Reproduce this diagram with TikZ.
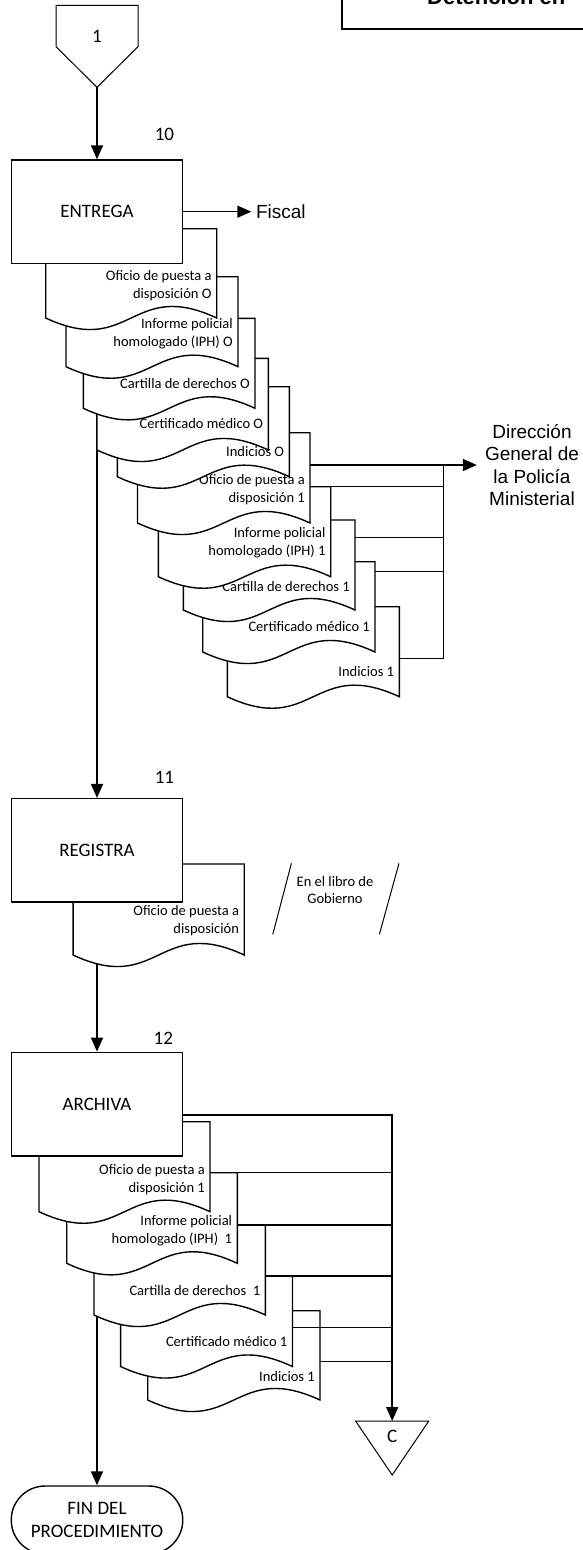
\documentclass[tikz,border=0pt]{standalone}
\usepackage{fontspec}
\setmainfont{Carlito}
\newfontfamily\arialfont{Liberation Sans}
\usetikzlibrary{arrows.meta,calc}
\pgfdeclarelayer{behind}
\pgfsetlayers{behind,main}

\newcommand\bigtxt{\fontsize{19}{23}\selectfont}
\newcommand\doctxt{\fontsize{14.5}{18}\selectfont}
\newcommand\labeltxt{\arialfont\fontsize{19}{22.2}\selectfont}

\tikzset{
  outline/.style={draw=black, line width=1.4pt},
  procbox/.style={outline, fill=white, rectangle, minimum width=171.5pt,
    minimum height=103.5pt, inner sep=0pt, font=\bigtxt},
  flow/.style={line width=1.5pt, -{Triangle[length=14pt,width=12pt]}},
  link/.style={line width=1.5pt},
  doctext/.style={anchor=east, align=right, inner sep=0pt, font=\doctxt},
  steplabel/.style={inner sep=0pt, font=\bigtxt},
}

% document symbol: name, left, right, top, bottom, text centre y, text
\newcommand\docsheet[7]{%
  \draw[outline, fill=white] (#2,#4) -- (#3,#4) -- (#3,#5)
    .. controls ({(#2+#3)/2},{#5-40}) and ({(#2+#3)/2},{#5+40}) .. (#2,#5) -- cycle;
  \node[doctext] (#1) at ({#3-5},#6) {#7};
}

\begin{document}
\begin{tikzpicture}[x=1pt,y=-1pt]
\useasboundingbox (0,0) rectangle (582,1550);

% heading frame
\draw[line width=2pt] (341.7,-30) -- (341.7,29) -- (620,29);
\node[anchor=base west, inner sep=0pt,
  font={\arialfont\bfseries\fontsize{22}{26}\selectfont}] (heading) at (427,4) {Detención en};

% off-page connector 1
\draw[outline, line width=1pt] (56,5.3) -- (138,5.3) -- (138,46.7) -- (97,87.3) -- (56,46.7) -- cycle;
\node[steplabel] (conn1) at (97,36) {1};
\coordinate (conn1tip) at (97,87.3);

% ---- step 10: documents, front sheet drawn last
\docsheet{d10}{227.3}{399.3}{606.7}{696.7}{671.7}{Indicios 1}
\docsheet{d9}{202.7}{375}{561.7}{652}{626.7}{Certificado médico 1}
\docsheet{d8}{183.3}{355}{520}{610}{586.7}{Cartilla de derechos 1}
\docsheet{d7}{158.3}{330.7}{486.7}{576.7}{542.5}{Informe policial\\homologado (IPH) 1}
\docsheet{d6}{137.5}{310}{432.7}{523}{490}{Oficio de puesta a\\disposición 1}
\docsheet{d5}{117.3}{289.3}{386.7}{476.7}{451.7}{Indicios O}
\docsheet{d4}{97}{268.3}{358.3}{450}{423.3}{Certificado médico O}
\docsheet{d3}{83.3}{255}{318.3}{408.3}{383.3}{Cartilla de derechos O}
\docsheet{d2}{66}{238}{276.7}{366.7}{333.7}{Informe policial\\homologado (IPH) O}
\docsheet{d1}{45.7}{216.7}{228.7}{318}{285.7}{Oficio de puesta a\\disposición O}

\node[procbox] (entrega) at (97,211.7) {ENTREGA};
\node[steplabel] (n10) at (164.4,134.3) {10};
\node[anchor=west, inner sep=0pt, inner xsep=4.5pt, font=\labeltxt] (fiscal) at (251.3,211.7) {Fiscal};
\node[align=center, inner sep=0pt, inner xsep=8pt, font=\labeltxt] (dgpm) at (532,465)
  {Dirección\\General de\\la Policía\\Ministerial};

\coordinate (d6-out) at (310,465);
\coordinate (d7-out) at (330.7,486.7);
\coordinate (d8-out) at (355,537.3);
\coordinate (d9-out) at (375,571.7);
\coordinate (d10-out) at (399.3,658.3);
\coordinate (busE) at (443.5,465);

% ---- step 11
\docsheet{r1}{73.1}{244.2}{864}{955}{920.8}{Oficio de puesta a\\disposición}
\node[procbox] (registra) at (97,850.4) {REGISTRA};
\node[steplabel] (n11) at (164.4,777.7) {11};
\draw[line width=1pt] (291.4,863.3) -- (272.8,934.3);
\draw[line width=1pt] (399,863.3) -- (379.4,934.3);
\node[align=center, inner sep=0pt, font={\fontsize{14.5}{17}\selectfont}] (libro) at (335,890)
  {En el libro de\\Gobierno};

% ---- step 12
\docsheet{a5}{147.7}{320}{1310.7}{1400}{1376.7}{Indicios 1}
\docsheet{a4}{120.6}{292.5}{1276}{1366.5}{1341.7}{Certificado médico 1}
\docsheet{a3}{94}{265.4}{1225}{1315}{1290.7}{Cartilla de derechos\ \ 1}
\docsheet{a2}{66.7}{237.3}{1172.7}{1263.3}{1230.5}{Informe policial\\homologado (IPH)\ \ 1}
\docsheet{a1}{39}{210}{1121.7}{1211.7}{1179.7}{Oficio de puesta a\\disposición 1}
\node[procbox] (archiva) at (97,1104.1) {ARCHIVA};
\node[steplabel] (n12) at (163.3,1038.3) {12};

\coordinate (a1-out) at (210,1172.7);
\coordinate (a2-out) at (237.3,1225);
\coordinate (a3-out) at (265.4,1276);
\coordinate (a4-out) at (292.5,1327.7);
\coordinate (a5-out) at (320,1361.7);

% end terminal
\node[outline, rectangle, rounded corners=33.9pt, minimum width=171.5pt, minimum height=68pt,
  align=center, inner sep=0pt, font=\bigtxt] (fin) at (97,1520) {FIN DEL\\PROCEDIMIENTO};

% off-page connector C
\draw[outline, line width=1pt] (355.6,1421) -- (428.8,1421) -- (392.2,1475) -- cycle;
\node[steplabel] (connC) at (392.2,1436) {C};
\coordinate (connCtop) at (392.2,1421);

% ---- main flow, behind the document sheets
\begin{pgfonlayer}{behind}
\draw[flow] (conn1tip) -- (entrega.north);
\draw[flow] (entrega.south) -- (registra.north);
\draw[flow] (registra.south) -- (archiva.north);
\draw[flow] (archiva.south) -- (fin.north);
\end{pgfonlayer}

% ---- distribution lines
\draw[flow] (entrega.east) -- (fiscal.west);
\draw[flow] (d6-out) -- (dgpm.west);
\draw[link] (d7-out) -- (d7-out -| busE);
\draw[link] (d8-out) -- (d8-out -| busE);
\draw[link] (d9-out) -- (d9-out -| busE);
\draw[link] (d10-out) -| (busE);

\draw[flow] ([yshift=-11pt]archiva.east) -| (connCtop);
\foreach \s in {a1,a2,a3,a4,a5}
  \draw[link] (\s-out) -- (\s-out -| connCtop);

\end{tikzpicture}
\end{document}
